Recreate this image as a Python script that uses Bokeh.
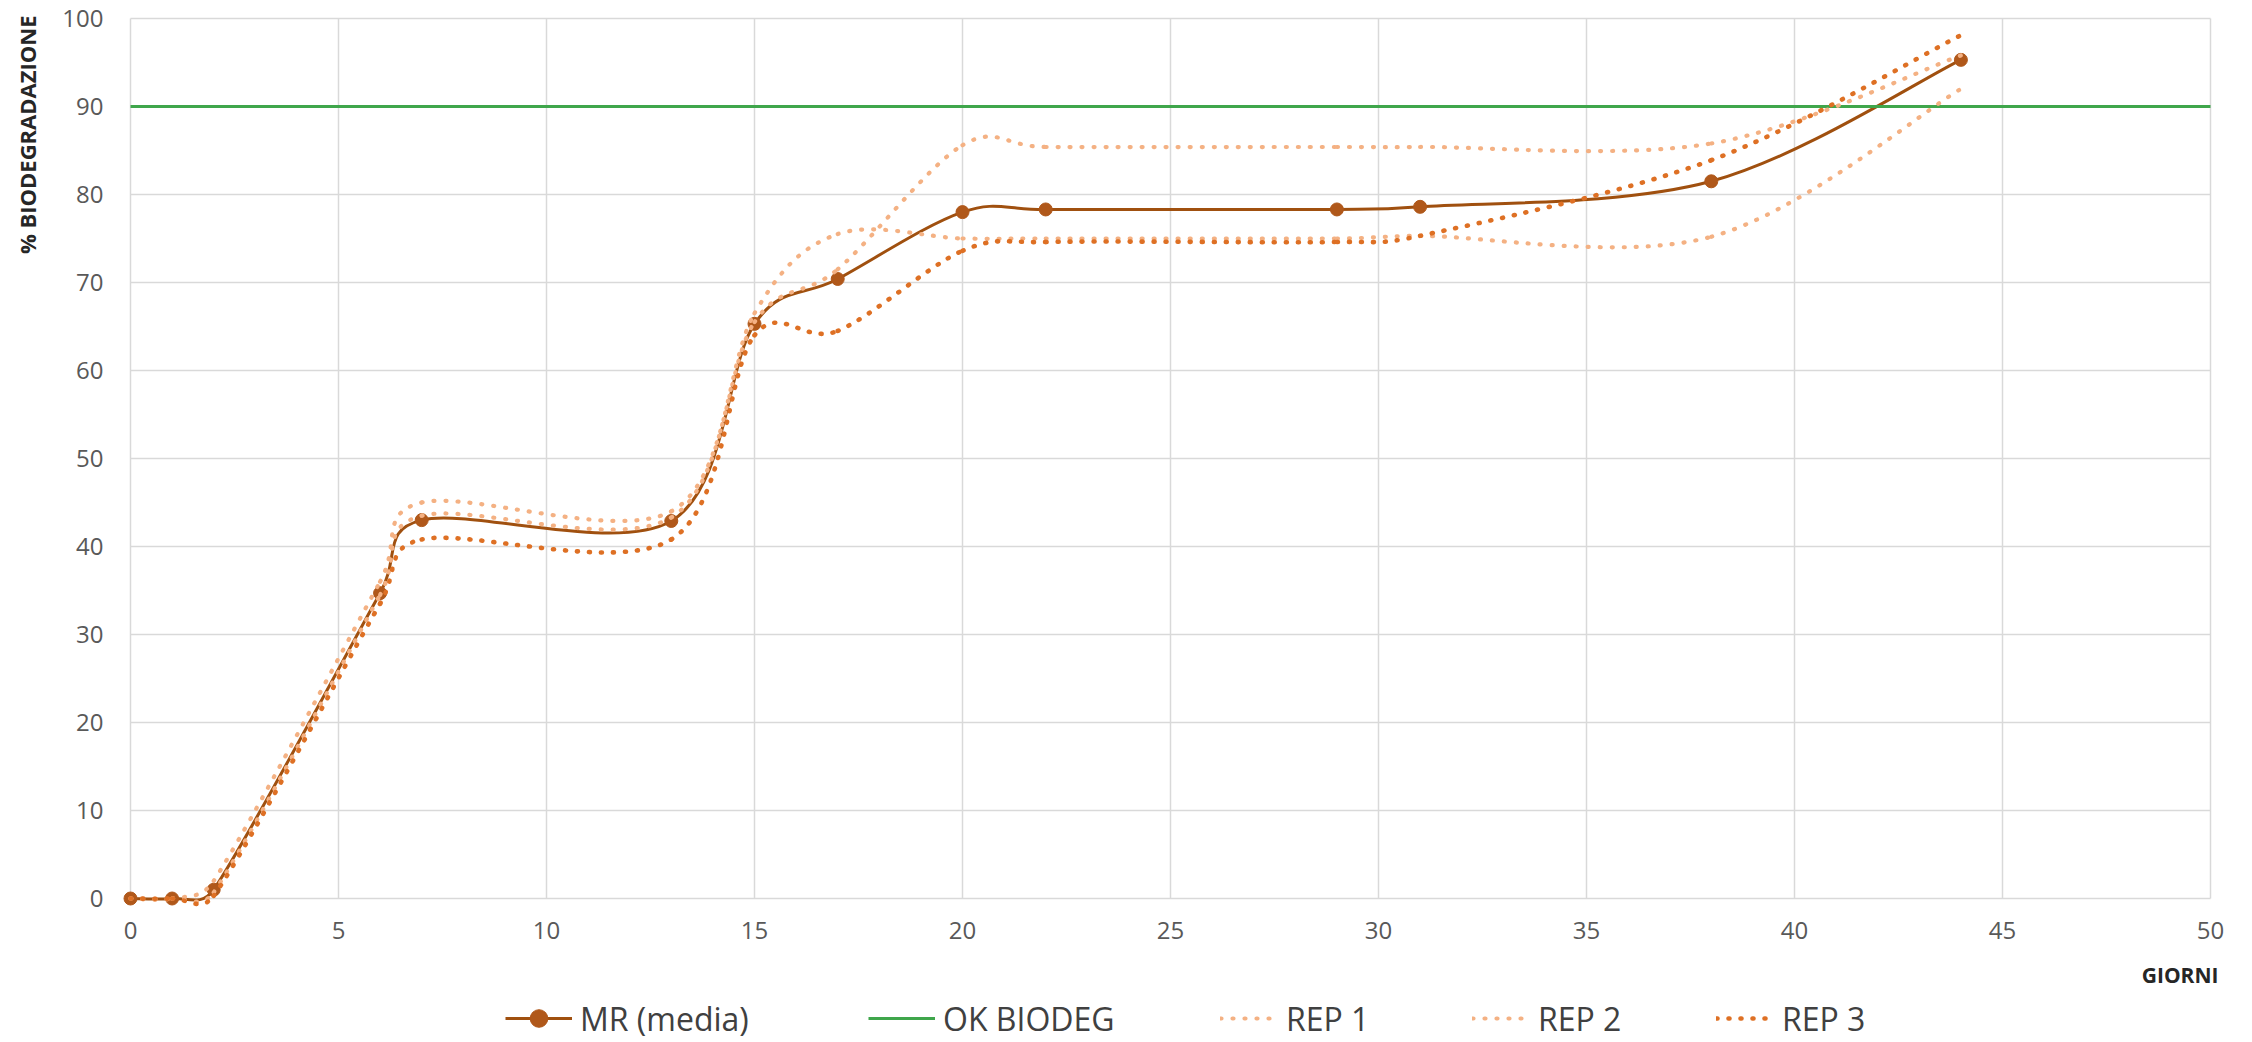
import math
from bokeh.plotting import figure
from bokeh.models import FixedTicker, Label, Legend, LegendItem, Range1d
from bokeh.embed import file_html
from bokeh.resources import INLINE

# ---------------- data ----------------
days = [0, 1, 2, 6, 7, 13, 15, 17, 20, 22, 29, 31, 38, 44]
mr_media = [0, 0, 1.0, 34.7, 43.0, 42.9, 65.3, 70.4, 78.0, 78.3, 78.3, 78.6, 81.5, 95.3]
rep1 = [0, 0, 2.0, 36.0, 45.0, 44.0, 65.5, 71.5, 85.6, 85.4, 85.4, 85.4, 85.8, 95.8]
rep2 = [0, 0, 0.7, 34.5, 43.5, 43.3, 66.5, 75.5, 75.0, 75.0, 75.0, 75.3, 75.2, 92.0]
rep3 = [0, 0, 0.3, 33.5, 40.8, 40.8, 64.0, 64.5, 73.6, 74.6, 74.6, 75.3, 83.9, 98.1]
ok_days = [0, 50]
ok_level = [90, 90]
x_ticks = list(range(0, 51, 5))
y_ticks = list(range(0, 101, 10))

series_names = ["MR (media)", "OK BIODEG", "REP 1", "REP 2", "REP 3"]
x_title = "GIORNI"
y_title = "% BIODEGRADAZIONE"

# ---------------- layout (pixels inside the figure) ----------------
W, H = 2250, 1040
X0, X1, Y0, Y1 = 0, 50, 0, 100
PLOT_L, PLOT_R, PLOT_T, PLOT_B = 130, 2210, 18, 898
SX = (PLOT_R - PLOT_L) / (X1 - X0)
SY = (PLOT_B - PLOT_T) / (Y1 - Y0)


def smooth_segments(xs, ys, f=1.0 / 6.0):
    """Excel-like smoothed line: cubic Bezier control points per segment."""
    pts = [(x * SX, y * SY) for x, y in zip(xs, ys)]
    n = len(pts)
    out = dict(x0=[], y0=[], x1=[], y1=[], cx0=[], cy0=[], cx1=[], cy1=[])
    for i in range(n - 1):
        p0 = pts[i - 1] if i > 0 else pts[i]
        p1 = pts[i]
        p2 = pts[i + 1]
        p3 = pts[i + 2] if i + 2 < n else pts[i + 1]
        d02 = math.hypot(p2[0] - p0[0], p2[1] - p0[1])
        d12 = math.hypot(p2[0] - p1[0], p2[1] - p1[1])
        d13 = math.hypot(p3[0] - p1[0], p3[1] - p1[1])
        f1 = f
        f2 = f
        if d02 > 0 and d02 * f > d12 / 2:
            f1 = d12 / (2 * d02)
        if d13 > 0 and d13 * f > d12 / 2:
            f2 = d12 / (2 * d13)
        c1 = (p1[0] + f1 * (p2[0] - p0[0]), p1[1] + f1 * (p2[1] - p0[1]))
        c2 = (p2[0] - f2 * (p3[0] - p1[0]), p2[1] - f2 * (p3[1] - p1[1]))
        out["x0"].append(p1[0] / SX)
        out["y0"].append(p1[1] / SY)
        out["x1"].append(p2[0] / SX)
        out["y1"].append(p2[1] / SY)
        out["cx0"].append(c1[0] / SX)
        out["cy0"].append(c1[1] / SY)
        out["cx1"].append(c2[0] / SX)
        out["cy1"].append(c2[1] / SY)
    return out


# the frame fills the whole figure; the data area sits inside it
x_range = Range1d(X0 - PLOT_L / SX, X1 + (W - PLOT_R) / SX)
y_range = Range1d(Y0 - (H - PLOT_B) / SY, Y1 + PLOT_T / SY)

p = figure(width=W, height=H, output_backend="svg", toolbar_location=None,
           x_range=x_range, y_range=y_range,
           min_border_left=0, min_border_right=0,
           min_border_top=0, min_border_bottom=0)
p.background_fill_color = "white"
p.border_fill_color = "white"
p.outline_line_color = None
p.xgrid.visible = False
p.ygrid.visible = False

# axes pinned at the data origin
p.xaxis.fixed_location = Y0
p.yaxis.fixed_location = X0
p.xaxis.bounds = (X0, X1)
p.yaxis.bounds = (Y0, Y1)
p.xaxis.ticker = FixedTicker(ticks=x_ticks)
p.yaxis.ticker = FixedTicker(ticks=y_ticks)
p.axis.axis_line_color = None
p.axis.major_tick_line_color = None
p.axis.minor_tick_line_color = None
p.axis.major_tick_out = 0
p.axis.major_tick_in = 0
p.axis.minor_tick_out = 0
p.axis.minor_tick_in = 0
p.axis.major_label_text_font = "Open Sans"
p.axis.major_label_text_font_size = "24px"
p.axis.major_label_text_color = "#595959"
p.yaxis.major_label_standoff = 27
p.xaxis.major_label_standoff = 23

# gridlines at the tick positions, limited to the data area
GRID = "#D9D9D9"
p.segment(x0=x_ticks, y0=[Y0] * len(x_ticks), x1=x_ticks, y1=[Y1] * len(x_ticks),
          line_color=GRID, line_width=1.5)
p.segment(x0=[X0] * len(y_ticks), y0=y_ticks, x1=[X1] * len(y_ticks), y1=y_ticks,
          line_color=GRID, line_width=1.5)

MR_COLOR = "#A0500F"
MR_MARK = "#B0581A"
OK_COLOR = "#3FA64B"
REP_LIGHT = "#F4B183"
REP_DARK = "#DE7024"

# MR (media)
mr_seg = smooth_segments(days, mr_media)
r_mr = p.bezier(line_color=MR_COLOR, line_width=3, **mr_seg)
r_mr_pts = p.scatter(days, mr_media, size=13, marker="circle",
                     fill_color=MR_MARK, line_color=MR_MARK)

# OK BIODEG
r_ok = p.line(ok_days, ok_level, line_color=OK_COLOR, line_width=3)

# replicates
r_rep = []
for vals, col, lw in ((rep1, REP_LIGHT, 4.2), (rep2, REP_LIGHT, 4.2), (rep3, REP_DARK, 4.6)):
    seg = smooth_segments(days, vals)
    r = p.bezier(line_color=col, line_width=lw, line_dash="1 11", line_cap="round", **seg)
    r_rep.append(r)

# ---------------- legend entries, one per series ----------------
LEG_H = 44
leg_specs = [
    (series_names[0], [r_mr, r_mr_pts], 505, 67),
    (series_names[1], [r_ok], 868, 67),
    (series_names[2], [r_rep[0]], 1220, 58),
    (series_names[3], [r_rep[1]], 1472, 58),
    (series_names[4], [r_rep[2]], 1716, 58),
]
for label, rends, vx, gw in leg_specs:
    leg = Legend(items=[LegendItem(label=label, renderers=rends)],
                 location=(vx, 0), orientation="horizontal",
                 border_line_color=None, background_fill_alpha=0,
                 padding=0, margin=0, spacing=0,
                 glyph_width=gw, glyph_height=LEG_H, label_height=LEG_H,
                 label_standoff=8,
                 label_text_font="Open Sans", label_text_font_size="32px",
                 label_text_color="#404040")
    p.add_layout(leg, "center")

# ---------------- axis titles ----------------
p.add_layout(Label(x=26, y=H - 15, x_units="screen", y_units="screen",
                   text=y_title, angle=math.pi / 2,
                   text_align="right", text_baseline="middle",
                   text_font="Open Sans", text_font_style="bold",
                   text_font_size="22px", text_color="#262626"))
p.add_layout(Label(x=2218, y=H - 974, x_units="screen", y_units="screen",
                   text=x_title, text_align="right", text_baseline="middle",
                   text_font="Open Sans", text_font_style="bold",
                   text_font_size="21px", text_color="#262626"))

open("out.html", "w").write(file_html(p, INLINE))
